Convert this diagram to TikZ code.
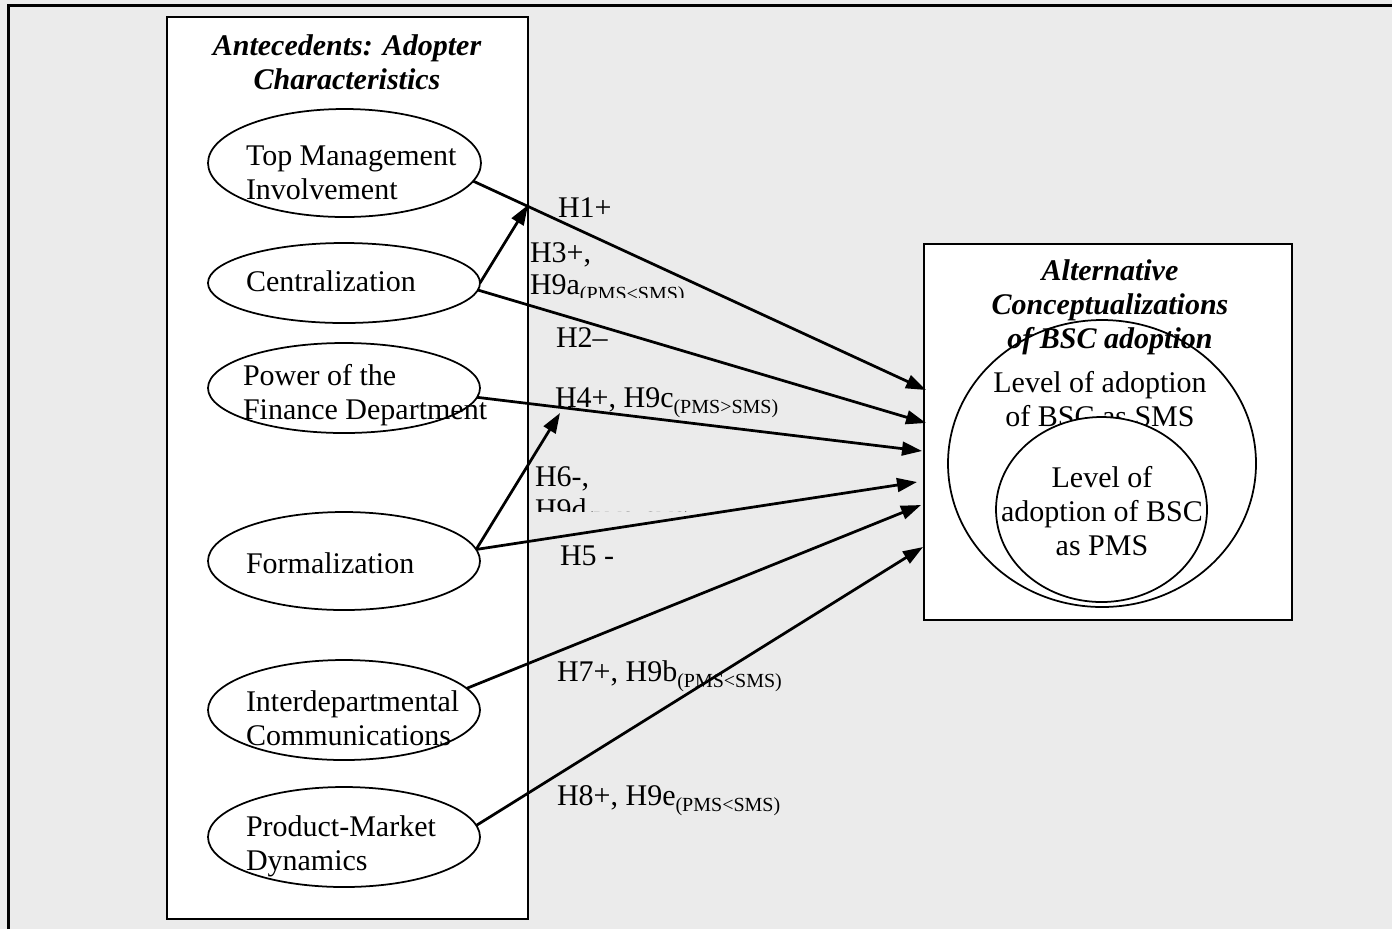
\documentclass[tikz,border=0pt]{standalone}
\usepackage{fontspec}
\setmainfont{Liberation Serif}
\usetikzlibrary{arrows.meta,shapes.geometric}
\definecolor{bgray}{RGB}{235,235,235}
\newcommand\pmsub[1]{\raisebox{-2.6pt}{\fontsize{8}{9}\selectfont #1}}
\newcommand\leftlines[1]{\begin{tabular}[t]{@{}l@{}}#1\end{tabular}}
\newcommand\midlines[1]{\begin{tabular}[t]{@{}c@{}}#1\end{tabular}}
\begin{document}
\begin{tikzpicture}[x=0.4pt,y=-0.4pt,
  every node/.style={font=\fontsize{12}{13.6}\selectfont, inner sep=0pt, outer sep=0pt},
  ell/.style n args={2}{ellipse, draw, line width=0.7pt, fill=white, minimum width=#1*0.4pt, minimum height=#2*0.4pt},
  box/.style={draw, line width=0.9pt, fill=white},
  arr/.style={-{Triangle[length=8pt,width=5.5pt]}, line width=1.1pt},
  lbl/.style={anchor=base west},
  txt/.style={anchor=base west},
  ttl/.style={anchor=base, font=\fontsize{12}{13.6}\selectfont\bfseries\itshape},
  ctxt/.style={anchor=base}]
\useasboundingbox (0,0) rectangle (1392,929);
\fill[bgray] (0,0) rectangle (1392,929);
\draw[line width=1.2pt] (8,929) -- (8,5) -- (1392,5);
% boxes
\node[box, minimum width=361*0.4pt, minimum height=902*0.4pt] (leftbox) at (347.5,468) {};
\node[box, minimum width=368*0.4pt, minimum height=376*0.4pt] (rightbox) at (1108,432) {};
% left ellipses
\node[ell={273}{108}] (tm) at (344.5,163) {};
\node[ell={272}{80}] (cen) at (344,283) {};
\node[ell={272}{90}] (pow) at (344,388) {};
\node[ell={272}{98}] (form) at (344,561) {};
\node[ell={272}{100}] (inter) at (344,710) {};
\node[ell={272}{100}] (prod) at (344,837) {};
\node[ttl] (lefttitle) at (347,55) {\midlines{Antecedents: Adopter\\Characteristics}};
\node[txt] (tmtext) at (246,165) {\leftlines{Top Management\\Involvement}};
\node[txt] (centext) at (246,291) {Centralization};
\node[txt] (powtext) at (243,385) {\leftlines{Power of the\\Finance Department}};
\node[txt] (formtext) at (246,573) {Formalization};
\node[txt] (intertext) at (246,711) {\leftlines{Interdepartmental\\Communications}};
\node[txt] (prodtext) at (246,836) {\leftlines{Product-Market\\Dynamics}};
% right side
\node[ell={308}{287}] (sms) at (1102,463.5) {};
\node[ttl] (righttitle) at (1110,280) {\midlines{Alternative\\Conceptualizations\\of BSC adoption}};
\node[ctxt] (smstext) at (1100,392) {\midlines{Level of adoption\\of BSC as SMS}};
\node[ell={211}{185}] (pms) at (1101.5,509.5) {};
\node[ctxt] (pmstext) at (1102,487) {\midlines{Level of\\adoption of BSC\\as PMS}};
% arrow targets
\coordinate (t1) at (926,390);
\coordinate (t2) at (926,423);
\coordinate (t3) at (922,451);
\coordinate (t4) at (917,482);
\coordinate (t5) at (921,505);
\coordinate (t6) at (923,547);
\coordinate (u1) at (528,205);
\coordinate (u2) at (560,413);
\draw[arr] (tm.352) -- (t1);
\draw[arr] (cen.357) -- (t2);
\draw[arr] (pow.356) -- (t3);
\draw[arr] (form.5) -- (t4);
\draw[arr] (inter.10) -- (t5);
\draw[arr] (prod.5) -- (t6);
\draw[arr] (cen.east) -- (u1);
\draw[arr] (form.5) -- (u2);
% labels
\node[lbl] (h1) at (558,217) {H1+};
\node[lbl] (h3) at (530,262) {H3+,};
\begin{scope}
\clip (520,270) rectangle (780,297);
\node[lbl] (h9a) at (530,294) {H9a\pmsub{(PMS<SMS)}};
\end{scope}
\node[lbl] (h2) at (556,347) {H2–};
\node[lbl] (h4) at (555,407) {H4+, H9c\pmsub{(PMS>SMS)}};
\node[lbl] (h6) at (535,486) {H6-,};
\begin{scope}
\clip (520,494) rectangle (780,511);
\node[lbl] (h9d) at (535,519) {H9d\pmsub{(PMS<SMS)}};
\end{scope}
\node[lbl] (h5) at (560,565) {H5 -};
\node[lbl] (h7) at (557,681) {H7+, H9b\pmsub{(PMS<SMS)}};
\node[lbl] (h8) at (557,805) {H8+, H9e\pmsub{(PMS<SMS)}};
\end{tikzpicture}
\end{document}
